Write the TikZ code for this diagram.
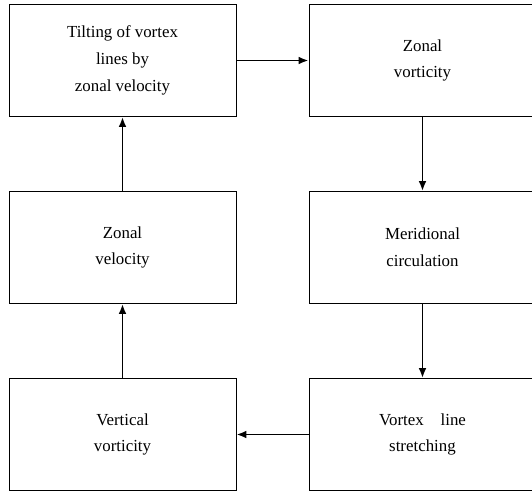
\documentclass[tikz,border=0pt]{standalone}
\usepackage{fontspec}
\setmainfont{Liberation Serif}
\usetikzlibrary{positioning,arrows.meta}
\begin{document}
\begin{tikzpicture}[
  block/.style={rectangle, draw, line width=0.6pt, minimum width=5.675cm, minimum height=2.8cm, align=center, inner sep=0pt},
  flow/.style={-{Latex[length=7pt,width=5.5pt]}, line width=1.4pt},
  font=\fontsize{12}{19}\selectfont
]
\useasboundingbox (-3.0625,1.5125) rectangle (10.2375,-10.75);
\node[block] (tilt) {Tilting of vortex\\lines by\\zonal velocity};
\node[block, right of=tilt, node distance=7.5cm] (zvort) {Zonal\\vorticity};
\node[block, below of=zvort, node distance=4.675cm] (merid) {Meridional\\circulation};
\node[block, below of=merid, node distance=4.675cm] (stretch) {Vortex\quad line\\stretching};
\node[block, below of=tilt, node distance=4.675cm] (zvel) {Zonal\\velocity};
\node[block, below of=zvel, node distance=4.675cm] (vvort) {Vertical\\vorticity};

\draw[flow] (tilt) -- (zvort);
\draw[flow] (zvort) -- (merid);
\draw[flow] (merid) -- (stretch);
\draw[flow] (stretch) -- (vvort);
\draw[flow] (vvort) -- (zvel);
\draw[flow] (zvel) -- (tilt);
\end{tikzpicture}
\end{document}
